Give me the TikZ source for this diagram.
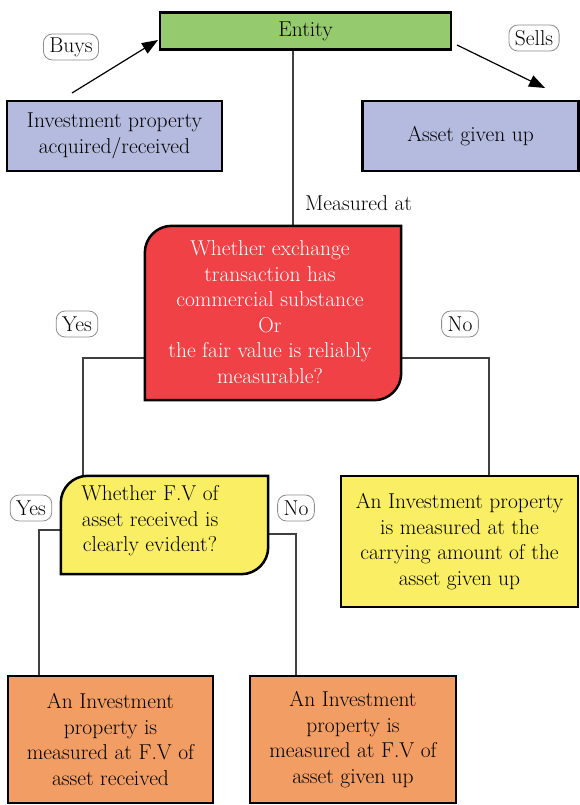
\documentclass[tikz,border=0pt]{standalone}
\usetikzlibrary{arrows.meta,calc}
\definecolor{cgreen}{RGB}{150,202,110}
\definecolor{cblue}{RGB}{180,187,222}
\definecolor{cred}{RGB}{239,65,70}
\definecolor{cyellow}{RGB}{250,238,100}
\definecolor{corange}{RGB}{241,157,100}
\newcommand\twocorner[3]{\draw[line width=2.5pt, fill=#2] ($(#1.north west)+(0,-#3)$) arc[start angle=180,end angle=90,radius=#3] -- (#1.north east) -- ($(#1.south east)+(0,#3)$) arc[start angle=0,end angle=-90,radius=#3] -- (#1.south west) -- cycle;}
\begin{document}
\begin{tikzpicture}[x=1pt,y=1pt,
  every node/.style={font=\fontsize{21.5}{25.5}\selectfont},
  box/.style={draw=black, line width=2.5pt, rectangle, inner sep=0pt, align=center},
  shapebox/.style={rectangle, inner sep=0pt},
  txt/.style={align=center, inner sep=0pt},
  lbl/.style={draw=black!45, line width=0.8pt, rounded corners=9pt, minimum height=26pt, inner xsep=6pt, inner ysep=0pt, fill=white},
  conn/.style={draw=black!75, line width=1.3pt},
  arr/.style={draw=black, line width=1.2pt, -{Triangle[length=16pt,width=12pt]}},
]
\useasboundingbox (0,0) rectangle (580,-805);
% coordinates for connectors
\coordinate (mx) at (293,0);
\coordinate (c1) at (83,-358);
\coordinate (c2) at (489,-358);
\coordinate (c3) at (39,-530);
\coordinate (c4) at (296,-534);
\coordinate (b1) at (72,-93);
\coordinate (b2) at (158,-40);
\coordinate (s1) at (457,-45);
\coordinate (s2) at (545,-88);

% node placeholders
\node[shapebox, minimum width=256pt, minimum height=174pt] (red) at (273,-313) {};
\node[shapebox, minimum width=207pt, minimum height=98pt] (dec) at (164.5,-525) {};
\node[box, fill=cgreen, minimum width=291pt, minimum height=37pt] (entity) at (305.5,-31) {Entity};
\node[box, fill=cyellow, minimum width=237pt, minimum height=131pt] (cy) at (459.5,-541.5) {An Investment property\\is measured at the\\carrying amount of the\\asset given up};
\node[box, fill=corange, minimum width=205pt, minimum height=127pt] (o1) at (110.5,-739.5) {An Investment\\property is\\measured at F.V of\\asset received};
\node[box, fill=corange, minimum width=206pt, minimum height=127pt] (o2) at (353,-739.5) {An Investment\\property is\\measured at F.V of\\asset given up};

% connectors
\draw[conn] (entity.south -| mx) -- (red.north -| mx);
\draw[conn] (c1 -| red.west) -- (c1) -- (c1 |- dec.north);
\draw[conn] (c2 -| red.east) -- (c2) -- (c2 |- cy.north);
\draw[conn] (c3 -| dec.west) -- (c3) -- (c3 |- o1.north);
\draw[conn] (c4 -| dec.east) -- (c4) -- (c4 |- o2.north);
\draw[arr] (b1) -- (b2);
\draw[arr] (s1) -- (s2);

% shaped boxes
\twocorner{red}{cred}{27pt}
\node[txt, text=white] at (270,-312) {Whether exchange\\transaction has\\commercial substance\\Or\\the fair value is reliably\\measurable?};
\twocorner{dec}{cyellow}{27pt}
\node[txt] at (150,-521) {Whether F.V of\\asset received is\\clearly evident?};

% top boxes
\node[box, fill=cblue, minimum width=215pt, minimum height=70pt] (inv) at (114.5,-136) {Investment property\\acquired/received};
\node[box, fill=cblue, minimum width=216pt, minimum height=70pt] (asset) at (470.5,-136) {Asset given up};

% labels
\node[lbl] (buys) at (71,-47) {Buys};
\node[lbl] (sells) at (534,-38) {Sells};
\node[txt, anchor=west] (meas) at (305,-203) {Measured at};
\node[lbl] (yes1) at (77,-324) {Yes};
\node[lbl] (no1) at (460,-324) {No};
\node[lbl] (yes2) at (31,-508) {Yes};
\node[lbl] (no2) at (296,-508) {No};
\end{tikzpicture}
\end{document}
